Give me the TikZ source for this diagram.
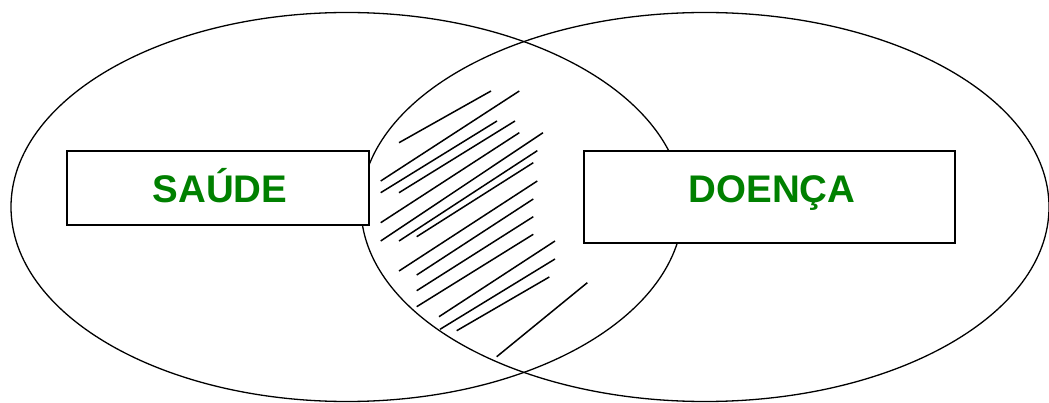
\documentclass[tikz,border=0pt]{standalone}
\usepackage{fontspec}
\setmainfont{Liberation Sans}
\definecolor{lblgreen}{HTML}{008000}
\tikzset{
  venn/.style={draw=black, line width=1.3pt},
  labelbox/.style={draw=black, line width=2pt, fill=white, rectangle, inner sep=0pt},
  labeltext/.style={text=lblgreen, font=\fontsize{38.5}{40}\selectfont\bfseries, inner sep=0pt, anchor=base},
  hatch/.style={draw=black, line width=1.5pt}
}
\begin{document}
\begin{tikzpicture}[x=1pt, y=-1pt]
\useasboundingbox (0,0) rectangle (1049,403);
% ellipses
\draw[venn] (347,207) ellipse [x radius=336, y radius=194.5];
\draw[venn] (705,207) ellipse [x radius=344, y radius=194.5];
% hatching
\foreach \a/\b/\c/\d in {
 399/142.7/491/91,
 380.7/181/519.3/91,
 380.7/192.7/497/121,
 399/192.7/515/121,
 380.7/222.7/519.3/132.7,
 380.7/241/543/132.7,
 399/241/537.3/150.7,
 416.7/236.7/533.3/162.7,
 399/271/537.3/181,
 416.7/275/533.3/199,
 416.7/290.7/533.3/216.7,
 416.7/306.7/533.3/234.3,
 439/316.7/555/241,
 440/329.3/555/259,
 456.7/330.7/549.3/277,
 496.7/356.7/587.3/282.7}
 {\draw[hatch] (\a,\b) -- (\c,\d);}
% boxes
\node[labelbox, minimum width=302pt, minimum height=74pt] (saudebox) at (218,188) {};
\node[labelbox, minimum width=371pt, minimum height=92pt] (doencabox) at (769.5,197) {};
\node[labeltext] (saude) at (220,203) {SAÚDE};
\node[labeltext] (doenca) at (772,203) {DOENÇA};
\end{tikzpicture}
\end{document}
